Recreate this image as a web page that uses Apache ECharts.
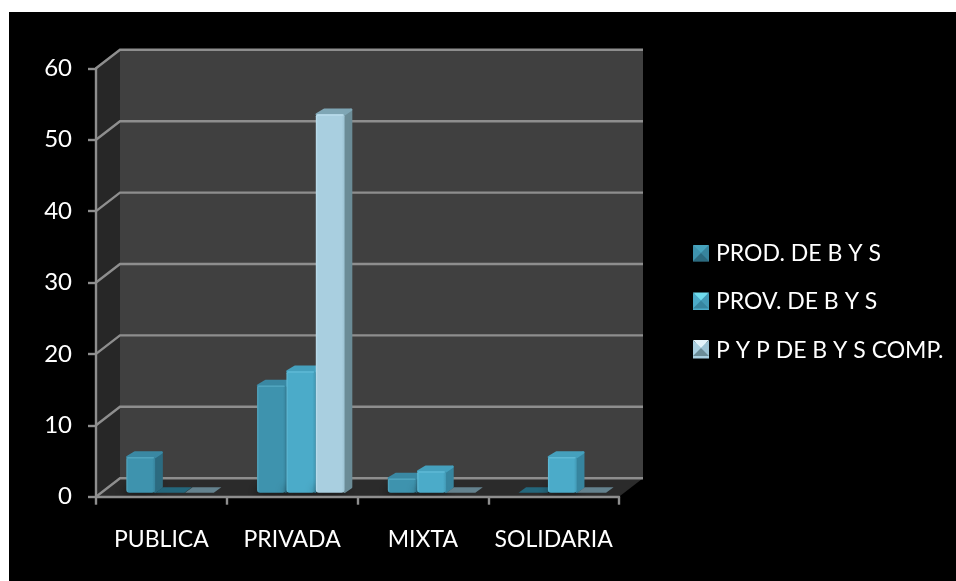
<!DOCTYPE html>
<html>
<head>
<meta charset="utf-8">
<script src="https://cdn.jsdelivr.net/npm/echarts@6/dist/echarts.min.js"></script>
<style>
  html, body { margin: 0; padding: 0; background: #fff; }
  #chart { position: absolute; left: 9px; top: 12px; width: 947px; height: 569px; background: #000; }
</style>
</head>
<body>
<div id="chart"></div>
<script>
// Enterprise counts by sector and activity type
const categories = ['PUBLICA', 'PRIVADA', 'MIXTA', 'SOLIDARIA'];
const yTickValues = [0, 10, 20, 30, 40, 50, 60];
const prodValues = [5, 15, 2, 0];
const provValues = [0, 17, 3, 5];
const compValues = [0, 53, 0, 0];
const seriesNames = ['PROD. DE B Y S', 'PROV. DE B Y S', 'P Y P DE B Y S COMP.'];

// Shades for the faces of each extruded bar
const palettes = [
  { edge: '#55a9c2', front: '#3e93ae', dark: '#37849d', side: '#2c6b80', top: '#3a88a3', flat: '#24677c', glow: '#46a3bd' },
  { edge: '#63bdd8', front: '#4babc9', dark: '#429ab6', side: '#37859f', top: '#45a0bd', flat: '#24677c', glow: '#6fdcee' },
  { edge: '#bfe0ee', front: '#a9cfe0', dark: '#9cc3d4', side: '#6b8c97', top: '#7fa6b5', flat: '#64828e', glow: '#e2f3fa' }
];

const DEPTH_X = 24, DEPTH_Y = -18.5;      // extrusion of the plot box
const BAR_DX = 7.5, BAR_DY = -5.5;        // extrusion of one bar
const BAR_INSET_X = 8.7, BAR_INSET_Y = -4; // how far bars sit behind the front plane
const BAR_SHARE = 0.22;                   // bar width as a share of the category band
const LINE_GREY = '#8e8e8e';

function poly(points, fill, extra) {
  return Object.assign({ type: 'polygon', shape: { points: points }, style: { fill: fill } }, extra || {});
}

// Side wall, back wall and floor of the plot box
function renderWalls(params, api) {
  const band = api.size([1, 0])[0];
  const bl = api.coord([0, 0]); const tl = api.coord([0, 60]);
  const x0 = bl[0] - band / 2, x1 = x0 + band * categories.length;
  const yB = bl[1], yT = tl[1];
  return { type: 'group', children: [
    poly([[x0, yT], [x0 + DEPTH_X, yT + DEPTH_Y], [x0 + DEPTH_X, yB + DEPTH_Y], [x0, yB]], '#272727'),
    poly([[x0 + DEPTH_X, yT + DEPTH_Y], [x1 + DEPTH_X, yT + DEPTH_Y], [x1 + DEPTH_X, yB + DEPTH_Y], [x0 + DEPTH_X, yB + DEPTH_Y]], '#404040'),
    poly([[x0, yB], [x1, yB], [x1 + DEPTH_X, yB + DEPTH_Y], [x0 + DEPTH_X, yB + DEPTH_Y]], '#2b2b2b')
  ] };
}

// One gridline per tick, folded along the side wall and the back wall
function renderGridline(params, api) {
  const band = api.size([1, 0])[0];
  const p = api.coord([0, api.value(0)]);
  const x0 = p[0] - band / 2, x1 = x0 + band * categories.length, y = p[1];
  return { type: 'polyline',
    shape: { points: [[x0, y], [x0 + DEPTH_X, y + DEPTH_Y], [x1 + DEPTH_X, y + DEPTH_Y]] },
    style: { fill: null, stroke: LINE_GREY, lineWidth: 2.4 } };
}

function makeBarRenderer(slot) {
  const pal = palettes[slot];
  return function (params, api) {
    const band = api.size([1, 0])[0];
    const w = band * BAR_SHARE;
    const val = api.value(1);
    const base = api.coord([api.value(0), 0]);
    const head = api.coord([api.value(0), val]);
    const x = base[0] + BAR_INSET_X + (slot - 1.5) * w + (slot - 1) * 0.6;
    const yB = base[1] + BAR_INSET_Y, yT = head[1] + BAR_INSET_Y;
    const topFace = [[x, yT], [x + w, yT], [x + w + BAR_DX, yT + BAR_DY], [x + BAR_DX, yT + BAR_DY]];
    if (val === 0) {
      return poly(topFace, pal.flat);
    }
    const round = { lineWidth: 2.5, lineJoin: 'round' };
    return { type: 'group', children: [
      poly([[x, yB], [x + w, yB], [x + w + BAR_DX, yB + BAR_DY], [x + BAR_DX, yB + BAR_DY]], '#1d1d1d',
        { style: { fill: '#1d1d1d', shadowBlur: 10, shadowColor: 'rgba(0,0,0,0.8)', shadowOffsetX: -3 } }),
      poly([[x + w, yB - 1], [x + w + BAR_DX - 1, yB + BAR_DY], [x + w + BAR_DX - 1, yT + BAR_DY + 1], [x + w, yT]], pal.side,
        { style: Object.assign({ fill: pal.side, stroke: pal.side }, round) }),
      poly([[x + 1, yT], [x + w, yT], [x + w + BAR_DX - 1, yT + BAR_DY + 1], [x + BAR_DX + 1, yT + BAR_DY + 1]], pal.top,
        { style: Object.assign({ fill: pal.top, stroke: pal.top }, round) }),
      { type: 'rect', shape: { x: x, y: yT, width: w, height: yB - yT, r: [2, 2, 3, 3] },
        style: { fill: new echarts.graphic.LinearGradient(0, 0, 1, 0, [
          { offset: 0, color: pal.edge }, { offset: 0.07, color: pal.front },
          { offset: 0.9, color: pal.front }, { offset: 1, color: pal.dark }
        ]) } },
      { type: 'rect', shape: { x: x + 1, y: yT, width: w - 2, height: 1.5, r: 1 },
        style: { fill: pal.edge, opacity: 0.8 } }
    ] };
  };
}

const valueSets = [prodValues, provValues, compValues];

const chart = echarts.init(document.getElementById('chart'), null, { renderer: 'canvas' });

const SWATCH_LEFT = 684, SWATCH_TOP = 233, SWATCH_SIZE = 16, SWATCH_STEP = 47.5;

// Bevel on the legend swatches: a lit top facet over a plain square
function swatchBevel(left, top, size, pal) {
  const m = size * 0.5;
  const c = [left + m, top + m];
  const tl = [left, top], tr = [left + size, top], br = [left + size, top + size], bl = [left, top + size];
  return [
    { type: 'polygon', shape: { points: [tl, tr, c] }, style: { fill: pal.glow }, z: 100 },
    { type: 'polygon', shape: { points: [tl, bl, c] }, style: { fill: pal.front }, z: 100 },
    { type: 'polygon', shape: { points: [tr, br, c] }, style: { fill: pal.dark }, z: 100 },
    { type: 'polygon', shape: { points: [bl, br, c] }, style: { fill: pal.side }, z: 100 }
  ];
}

chart.setOption({
  animation: false,
  backgroundColor: '#000',
  textStyle: { fontFamily: 'Lato' },
  grid: { left: 87, right: 337, top: 56.3, bottom: 84.3 },
  legend: {
    orient: 'vertical', left: SWATCH_LEFT, top: SWATCH_TOP - 3, itemGap: 25.5, padding: 0,
    itemWidth: SWATCH_SIZE, itemHeight: SWATCH_SIZE, icon: 'rect', selectedMode: false,
    data: seriesNames,
    textStyle: { color: '#fff', fontSize: 23, fontFamily: 'Lato', padding: [0, 0, 0, 2] }
  },
  xAxis: {
    type: 'category', data: categories, z: 5,
    axisLine: { lineStyle: { color: LINE_GREY, width: 2.4 } },
    axisTick: { show: true, interval: 0, length: 8, lineStyle: { color: LINE_GREY, width: 2.4 } },
    axisLabel: { color: '#fff', fontSize: 23, margin: 31, interval: 0, fontFamily: 'Lato' }
  },
  yAxis: {
    type: 'value', min: 0, max: 60, interval: 10, z: 5,
    axisLine: { show: true, lineStyle: { color: LINE_GREY, width: 2.4 } },
    axisTick: { show: true, length: 8, lineStyle: { color: LINE_GREY, width: 2.4 } },
    axisLabel: { color: '#fff', fontSize: 24, margin: 24, fontFamily: 'Lato', padding: [6, 0, 0, 0] },
    splitLine: { show: false }
  },
  graphic: seriesNames.flatMap((n, i) => swatchBevel(SWATCH_LEFT, SWATCH_TOP + i * SWATCH_STEP, SWATCH_SIZE, palettes[i])),
  series: [
    { type: 'custom', name: 'walls', silent: true, z: 1, data: [[0]], renderItem: renderWalls, coordinateSystem: 'cartesian2d' },
    { type: 'custom', name: 'gridlines', silent: true, z: 2, encode: { y: 0 },
      data: yTickValues.map(v => [v]), renderItem: renderGridline, coordinateSystem: 'cartesian2d' }
  ].concat(seriesNames.map((name, i) => ({
    type: 'custom', name: name, z: 3 + i, coordinateSystem: 'cartesian2d',
    itemStyle: { color: palettes[i].front },
    encode: { x: 0, y: 1 },
    data: categories.map((c, k) => [k, valueSets[i][k]]),
    renderItem: makeBarRenderer(i)
  })))
});
</script>
</body>
</html>
